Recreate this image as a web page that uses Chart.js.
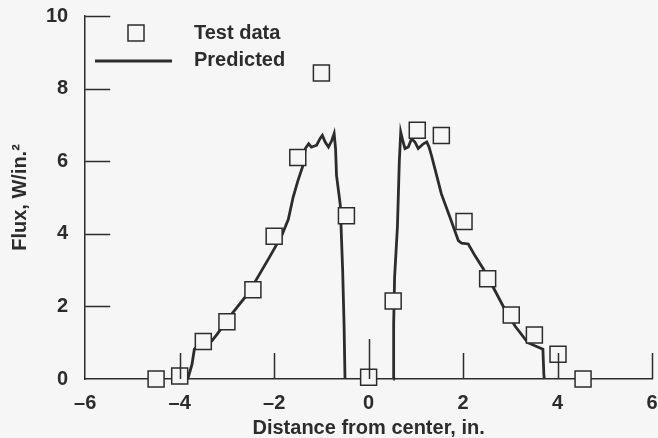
<!DOCTYPE html>
<html>
<head>
<meta charset="utf-8">
<script src="https://cdn.jsdelivr.net/npm/chart.js@4/dist/chart.umd.min.js"></script>
<style>
  html, body { margin: 0; padding: 0; background: #f6f6f6; }
  #wrap { width: 658px; height: 438px; }
</style>
</head>
<body>
<div id="wrap"><canvas id="c"></canvas></div>
<script>
// test data (squares)
const testX = [-4.5, -4.0, -3.5, -3.0, -2.45, -2.0, -1.5, -1.0, -0.47, 0.0, 0.52, 1.03, 1.54, 2.02, 2.52, 3.02, 3.51, 4.01, 4.54];
const testY = [0.0, 0.08, 1.03, 1.58, 2.46, 3.93, 6.1, 8.43, 4.5, 0.05, 2.15, 6.85, 6.71, 4.34, 2.76, 1.76, 1.21, 0.68, 0.0];

// predicted, left of center
const predLX = [-3.83, -3.74, -3.69, -3.55, -3.32, -3.21, -2.90, -2.54, -2.12, -1.84, -1.70, -1.60, -1.50, -1.40, -1.34, -1.27, -1.21, -1.10, -1.03, -0.98, -0.92, -0.85, -0.78, -0.73, -0.70, -0.68, -0.60, -0.55, -0.52, -0.50];
const predLY = [0, 0.40, 0.82, 1.00, 1.05, 1.23, 1.79, 2.38, 3.31, 3.95, 4.40, 5.00, 5.45, 5.84, 6.35, 6.48, 6.39, 6.44, 6.62, 6.71, 6.53, 6.39, 6.57, 6.76, 6.35, 5.61, 4.8, 3.0, 1.5, 0];

// predicted, right of center
const predRX = [0.52, 0.53, 0.55, 0.61, 0.65, 0.68, 0.73, 0.77, 0.84, 0.91, 0.98, 1.05, 1.16, 1.23, 1.28, 1.33, 1.44, 1.54, 1.72, 1.90, 1.97, 2.11, 2.25, 2.43, 2.64, 2.88, 3.10, 3.37, 3.69, 3.71, 3.72];
const predRY = [0, 1.5, 2.8, 4.2, 6.0, 6.80, 6.53, 6.35, 6.39, 6.62, 6.53, 6.35, 6.48, 6.53, 6.39, 6.16, 5.61, 5.10, 4.46, 3.81, 3.74, 3.72, 3.40, 3.03, 2.52, 1.93, 1.46, 1.0, 0.82, 0.13, 0];

const xTicks = [-6, -4, -2, 0, 2, 4, 6];
const yTicks = [0, 2, 4, 6, 8, 10];

const BG = '#f6f6f6';
const INK = '#2c2c2c';
const FONT = "'Liberation Sans', Arial, sans-serif";

const pts = (xs, ys) => xs.map((x, i) => ({ x, y: ys[i] }));

// ticks point inward; the one at the center is longer
const inwardTicks = {
  id: 'inwardTicks',
  afterDraw(chart) {
    const { ctx, chartArea: a, scales: { x, y } } = chart;
    ctx.save();
    ctx.strokeStyle = INK;
    ctx.lineWidth = 1.5;
    ctx.beginPath();
    yTicks.forEach(v => {
      if (v === 0) return;
      const py = Math.round(y.getPixelForValue(v)) + 0.5;
      ctx.moveTo(a.left, py);
      ctx.lineTo(a.left + 25, py);
    });
    xTicks.forEach(v => {
      if (v === xTicks[0]) return;
      const px = Math.round(x.getPixelForValue(v)) + 0.5;
      ctx.moveTo(px, a.bottom);
      ctx.lineTo(px, a.bottom - (v === 0 ? 40 : 26));
    });
    ctx.stroke();
    ctx.restore();
  }
};

const legendBox = {
  id: 'legendBox',
  afterDraw(chart) {
    const ctx = chart.ctx;
    ctx.save();
    ctx.fillStyle = BG;
    ctx.strokeStyle = INK;
    ctx.lineWidth = 1.5;
    ctx.fillRect(128, 25, 16, 16);
    ctx.strokeRect(128, 25, 16, 16);
    ctx.lineWidth = 2.8;
    ctx.beginPath();
    ctx.moveTo(95, 61);
    ctx.lineTo(172, 61);
    ctx.stroke();
    ctx.fillStyle = INK;
    ctx.font = 'bold 20px ' + FONT;
    ctx.textBaseline = 'middle';
    ctx.textAlign = 'left';
    ctx.fillText('Test data', 194, 33);
    ctx.fillText('Predicted', 194, 60);
    ctx.restore();
  }
};

const lineStyle = {
  type: 'scatter',
  showLine: true,
  borderColor: INK,
  borderWidth: 2.8,
  pointRadius: 0,
  tension: 0,
  clip: false
};

new Chart(document.getElementById('c'), {
  type: 'scatter',
  data: {
    datasets: [
      {
        label: 'Test data',
        data: pts(testX, testY),
        pointStyle: 'rect',
        pointRadius: 11.3,
        borderWidth: 1.5,
        borderColor: INK,
        backgroundColor: BG,
        clip: false
      },
      Object.assign({ label: 'Predicted', data: pts(predLX, predLY) }, lineStyle),
      Object.assign({ label: 'Predicted', data: pts(predRX, predRY) }, lineStyle)
    ]
  },
  options: {
    responsive: true,
    maintainAspectRatio: false,
    animation: false,
    events: [],
    // no extra room for the squares' overflow, the axes set the margins
    layout: { autoPadding: false, padding: { left: 4, right: 0, top: 0, bottom: 0 } },
    plugins: { legend: { display: false }, tooltip: { enabled: false } },
    scales: {
      x: {
        type: 'linear',
        min: -6, max: 6,
        afterBuildTicks: s => { s.ticks = xTicks.map(v => ({ value: v })); },
        // tick padding would otherwise widen the right margin
        afterFit: s => { s.paddingRight = 6; },
        grid: { display: false, drawTicks: false },
        border: { display: true, color: INK, width: 1.5 },
        ticks: {
          color: INK,
          padding: 14,
          maxRotation: 0,
          font: { family: FONT, size: 20, weight: 'bold', lineHeight: 1.0 },
          callback: v => String(v).replace('-', '\u2013')
        },
        title: {
          display: true,
          text: 'Distance from center, in.',
          color: INK,
          padding: { top: -9, bottom: 0 },
          font: { family: FONT, size: 20, weight: 'bold', lineHeight: 1.0 }
        }
      },
      y: {
        type: 'linear',
        min: 0, max: 10,
        afterBuildTicks: s => { s.ticks = yTicks.map(v => ({ value: v })); },
        afterFit: s => { s.paddingTop = 16; },
        grid: { display: false, drawTicks: false },
        border: { display: true, color: INK, width: 1.5 },
        ticks: {
          color: INK,
          padding: 17,
          font: { family: FONT, size: 20, weight: 'bold' }
        },
        title: {
          display: true,
          text: 'Flux, W/in.\u00b2',
          color: INK,
          padding: { top: 4, bottom: -3 },
          font: { family: FONT, size: 20, weight: 'bold' }
        }
      }
    }
  },
  plugins: [inwardTicks, legendBox]
});
</script>
</body>
</html>
